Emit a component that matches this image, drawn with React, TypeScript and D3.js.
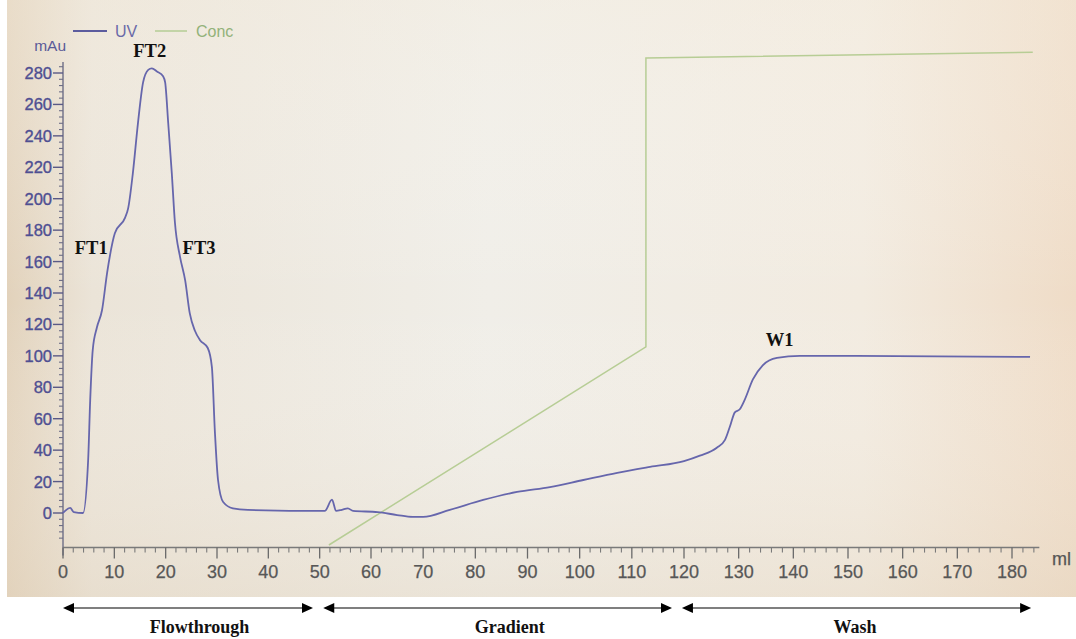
import React from "react";
import * as d3 from "d3";

// UV trace (ml, mAu)
const uvVolume = [0, 1.4, 2.1, 3.9, 4.9, 5.3, 5.8, 6.6, 7.6, 8.6, 10.1, 12.1, 12.7, 13.6, 14.6, 15.6, 16.6, 17.3, 18.3, 19.5, 19.9, 20.5, 21.2, 21.8, 22.8, 23.8, 24.7, 25.7, 26.7, 28.2, 29.0, 29.6, 30.2, 31.2, 33.1, 36, 51, 52.4, 53.2, 54.3, 55.5, 56.5, 61.3, 65, 68, 70, 75.1, 81.5, 88, 94.3, 100.7, 107.2, 113.5, 120, 122.9, 126, 127.5, 128.4, 129.3, 130.2, 131.1, 132.6, 134.4, 137, 141.2, 147.2, 183.3];
const uvValue = [0, 3.2, 0.6, 0, 33.7, 72, 104, 118, 129, 153, 178, 188, 194, 216, 248, 274, 282, 283, 281, 278, 274, 248, 216, 185, 163, 148, 127, 116, 110, 105, 93, 51, 21, 7, 3, 2, 1.3, 8.5, 1.3, 2, 3, 1.3, 0.6, -1.3, -2.5, -2.5, 2, 8.3, 13.4, 16.5, 21, 25.5, 29.3, 33, 36.5, 41.5, 46.5, 55, 64, 66, 72, 85, 94, 98.7, 100, 100, 99.3];

// Concentration (ml, %B)
const concVolume = [51.8, 112.7, 112.7, 183.8];
const concValue = [0, 40.7, 100, 101.2];

// Axis ticks
const xMajorTicks = [0, 10, 20, 30, 40, 50, 60, 70, 80, 90, 100, 110, 120, 130, 140, 150, 160, 170, 180];
const yMajorTicks = [0, 20, 40, 60, 80, 100, 120, 140, 160, 180, 200, 220, 240, 260, 280];

// Peak labels
const peakNames = ["FT1", "FT2", "FT3", "W1"];
const peakX = [5.5, 16.9, 26.5, 137.5];
const peakY = [165, 290, 165, 106];

// Phases
const phaseNames = ["Flowthrough", "Gradient", "Wash"];
const phaseStart = [0, 50.7, 119.6];
const phaseEnd = [48.7, 117.7, 183.5];
const phaseLabelX = [26.6, 86.6, 151.3];

const W = 1076;
const H = 639;
const SANS = "Liberation Sans, Arial, sans-serif";
const SERIF = "Liberation Serif, Times New Roman, serif";

export default function App() {
  // piecewise-linear x scale mimics the photo's slight perspective
  const x = d3.scaleLinear().domain([0, 60, 120, 180]).range([63, 371, 684, 1012]);
  const y = d3.scaleLinear().domain([0, 280]).range([513, 73]);
  const yc = d3.scaleLinear().domain([0, 100]).range([545, 58]);

  const uvData = uvVolume.map((v, i) => [v, uvValue[i]] as [number, number]);
  const concData = concVolume.map((v, i) => [v, concValue[i]] as [number, number]);

  const uvLine = d3
    .line<[number, number]>()
    .x((d) => x(d[0]))
    .y((d) => y(d[1]))
    .curve(d3.curveMonotoneX);
  const concLine = d3
    .line<[number, number]>()
    .x((d) => x(d[0]))
    .y((d) => yc(d[1]));

  const xAxisY = y(-22);
  const yAxisTop = y(287);
  const xMinor = d3.range(0, 185, 2).filter((v) => v % 10 !== 0);
  const yMinor = d3.range(-20, 287, 4).filter((v) => v % 20 !== 0);

  const arrowY = 608;
  const photoBottom = 597;

  return (
    <svg
      width={W}
      height={H}
      style={{ position: "absolute", left: 0, top: 0 }}
      xmlns="http://www.w3.org/2000/svg"
    >
      <defs>
        <linearGradient id="bgH" x1="0" x2="1" y1="0" y2="0">
          <stop offset="0" stopColor="#e2d2bb" />
          <stop offset="0.08" stopColor="#ebe4d8" />
          <stop offset="0.45" stopColor="#f0eee8" />
          <stop offset="0.8" stopColor="#f2ebe0" />
          <stop offset="1" stopColor="#efdcc7" />
        </linearGradient>
        <linearGradient id="bgV" x1="0" x2="0" y1="0" y2="1">
          <stop offset="0" stopColor="#f6efe2" stopOpacity="0.35" />
          <stop offset="0.5" stopColor="#ffffff" stopOpacity="0" />
          <stop offset="1" stopColor="#e2d3bd" stopOpacity="0.35" />
        </linearGradient>
      </defs>
      <rect x={0} y={0} width={W} height={H} fill="#ffffff" />
      <rect x={7} y={0} width={W - 7} height={photoBottom} fill="url(#bgH)" />
      <rect x={7} y={0} width={W - 7} height={photoBottom} fill="url(#bgV)" />

      {/* legend */}
      <line x1={73} x2={107} y1={31} y2={31} stroke="#5c5c9e" strokeWidth={1.8} />
      <text x={115} y={37} fontFamily={SANS} fontSize={16} fill="#6a6aa8">UV</text>
      <line x1={155} x2={187} y1={31} y2={31} stroke="#b5cc94" strokeWidth={1.5} />
      <text x={196} y={37} fontFamily={SANS} fontSize={16} fill="#93b27a">Conc</text>
      <text x={66} y={51} textAnchor="end" fontFamily={SANS} fontSize={15.5} fill="#5a5a98">mAu</text>

      {/* y axis */}
      <line x1={63} x2={63} y1={yAxisTop} y2={xAxisY + 8} stroke="#6e6e86" strokeWidth={1.4} />
      {yMinor.map((v) => (
        <line key={"ym" + v} x1={59} x2={63} y1={y(v)} y2={y(v)} stroke="#6e6e86" strokeWidth={1.1} />
      ))}
      {yMajorTicks.map((v) => (
        <g key={"yt" + v}>
          <line x1={53} x2={63} y1={y(v)} y2={y(v)} stroke="#5a5a86" strokeWidth={1.4} />
          <text
            x={52}
            y={y(v)}
            dy="0.36em"
            textAnchor="end"
            fontFamily={SANS}
            fontSize={16.5}
            fill="#4f4f92"
            stroke="#4f4f92"
            strokeWidth={0.35}
          >
            {v}
          </text>
        </g>
      ))}

      {/* x axis */}
      <line x1={63} x2={x(185)} y1={xAxisY} y2={xAxisY} stroke="#7a7a7a" strokeWidth={1.4} />
      {xMinor.map((v) => (
        <line key={"xm" + v} x1={x(v)} x2={x(v)} y1={xAxisY} y2={xAxisY + 5} stroke="#7a7a7a" strokeWidth={1.1} />
      ))}
      {xMajorTicks.map((v) => (
        <g key={"xt" + v}>
          <line x1={x(v)} x2={x(v)} y1={xAxisY} y2={xAxisY + 11} stroke="#6a6a6a" strokeWidth={1.3} />
          <text
            x={x(v)}
            y={578}
            textAnchor="middle"
            fontFamily={SANS}
            fontSize={18}
            fill="#575757"
            stroke="#575757"
            strokeWidth={0.25}
          >
            {v}
          </text>
        </g>
      ))}
      <text x={1052} y={565} fontFamily={SANS} fontSize={18} fill="#555555" stroke="#555555" strokeWidth={0.25}>ml</text>

      {/* traces */}
      <path d={concLine(concData) || ""} fill="none" stroke="#b7cd95" strokeWidth={1.5} />
      <path d={uvLine(uvData) || ""} fill="none" stroke="#6666ac" strokeWidth={1.8} />

      {/* peak labels */}
      {peakNames.map((n, i) => (
        <text
          key={n}
          x={x(peakX[i])}
          y={y(peakY[i])}
          textAnchor="middle"
          fontFamily={SERIF}
          fontWeight="bold"
          fontSize={18.5}
          fill="#111111"
        >
          {n}
        </text>
      ))}

      {/* phase arrows */}
      {phaseNames.map((n, i) => {
        const x0 = x(phaseStart[i]);
        const x1 = x(phaseEnd[i]);
        return (
          <g key={n}>
            <line x1={x0 + 8} x2={x1 - 8} y1={arrowY} y2={arrowY} stroke="#555555" strokeWidth={1.6} />
            <path d={`M${x0},${arrowY} L${x0 + 11},${arrowY - 5} L${x0 + 11},${arrowY + 5} Z`} fill="#000000" />
            <path d={`M${x1},${arrowY} L${x1 - 11},${arrowY - 5} L${x1 - 11},${arrowY + 5} Z`} fill="#000000" />
            <text
              x={x(phaseLabelX[i])}
              y={633}
              textAnchor="middle"
              fontFamily={SERIF}
              fontWeight="bold"
              fontSize={18}
              fill="#111111"
            >
              {n}
            </text>
          </g>
        );
      })}
    </svg>
  );
}
